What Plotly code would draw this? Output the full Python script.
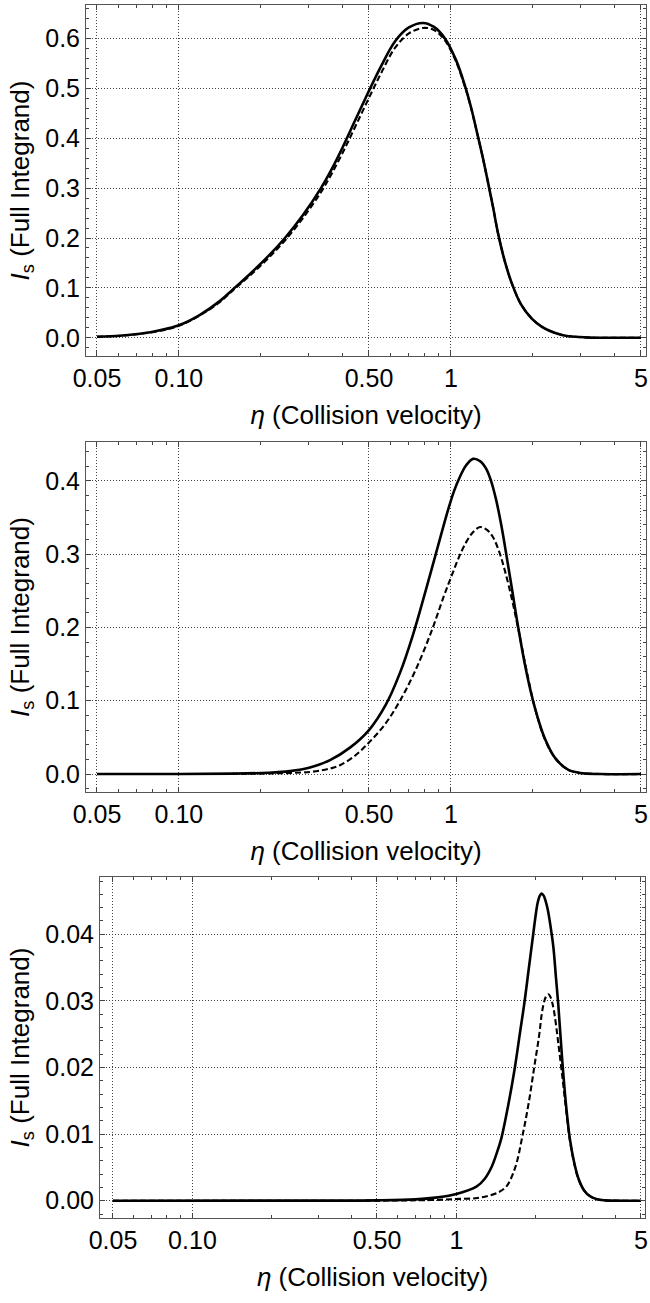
import plotly.graph_objects as go

# panel 1 (top): eta, full integrand (solid), approximation (dashed)
eta_top = [0.05, 0.0607, 0.0719, 0.0852, 0.1, 0.1196, 0.1417, 0.158, 0.1826, 0.2127, 0.2455,
           0.286, 0.333, 0.3655, 0.401, 0.444, 0.496, 0.5535, 0.623, 0.701, 0.790, 0.867,
           0.951, 1.044, 1.127, 1.186, 1.247, 1.312, 1.369, 1.429, 1.490, 1.581, 1.678,
           1.811, 1.988, 2.163, 2.354, 2.562, 2.789, 3.247, 3.845, 5.0]
full_top = [0.002, 0.004, 0.008, 0.015, 0.025, 0.046, 0.074, 0.097, 0.128, 0.163, 0.2,
            0.246, 0.3, 0.339, 0.383, 0.435, 0.491, 0.544, 0.594, 0.622, 0.631, 0.623,
            0.6, 0.557, 0.505, 0.462, 0.412, 0.36, 0.312, 0.262, 0.21, 0.152, 0.108,
            0.067, 0.038, 0.022, 0.012, 0.0058, 0.0025, 0.0004, 0.0, 0.0]
approx_top = [0.002, 0.004, 0.008, 0.014, 0.024, 0.045, 0.072, 0.095, 0.125, 0.159, 0.195,
              0.24, 0.292, 0.33, 0.372, 0.422, 0.477, 0.53, 0.581, 0.61, 0.621, 0.617,
              0.596, 0.554, 0.503, 0.461, 0.412, 0.36, 0.312, 0.262, 0.21, 0.152, 0.108,
              0.067, 0.038, 0.022, 0.012, 0.0058, 0.0025, 0.0004, 0.0, 0.0]

# panel 2 (middle)
eta_mid = [0.05, 0.1, 0.158, 0.2127, 0.256, 0.3035, 0.3595, 0.4257, 0.5, 0.5773, 0.650,
           0.7256, 0.7966, 0.874, 0.9277, 0.976, 1.027, 1.081, 1.137, 1.206, 1.280, 1.346,
           1.405, 1.465, 1.528, 1.595, 1.678, 1.765, 1.889, 2.038, 2.218, 2.415, 2.695,
           2.984, 3.535, 5.0]
full_mid = [0.0, 0.0001, 0.0006, 0.0018, 0.004, 0.009, 0.019, 0.036, 0.06, 0.095, 0.138,
            0.19, 0.242, 0.296, 0.331, 0.36, 0.386, 0.406, 0.421, 0.43, 0.427, 0.417,
            0.4, 0.375, 0.342, 0.302, 0.252, 0.202, 0.142, 0.09, 0.048, 0.022, 0.006,
            0.0015, 0.0, 0.0]
eta_mid_d = [0.05, 0.1, 0.158, 0.2127, 0.306, 0.3595, 0.391, 0.444, 0.5, 0.5727, 0.650,
             0.744, 0.849, 0.943, 1.010, 1.071, 1.137, 1.206, 1.280, 1.358, 1.429, 1.503,
             1.581, 1.678, 1.765, 1.889, 2.038, 2.218, 2.415, 2.695, 2.984, 3.535, 5.0]
approx_mid = [0.0, 0.0, 0.0002, 0.0008, 0.003, 0.0075, 0.012, 0.025, 0.043, 0.068, 0.1,
              0.143, 0.195, 0.243, 0.272, 0.296, 0.316, 0.33, 0.337, 0.333, 0.323, 0.304,
              0.277, 0.238, 0.2, 0.145, 0.09, 0.047, 0.022, 0.006, 0.0015, 0.0, 0.0]

# panel 3 (bottom)
eta_bot = [0.05, 0.3, 0.5, 0.7, 0.85, 1.0, 1.19, 1.28, 1.36, 1.42, 1.48, 1.57, 1.66, 1.74,
           1.81, 1.88, 1.95, 1.99, 2.03, 2.07, 2.10, 2.14, 2.18, 2.22, 2.27, 2.33, 2.382,
           2.43, 2.517, 2.599, 2.691, 2.8, 2.9, 3.05, 3.2, 3.41, 3.65, 5.0]
full_bot = [0.0, 0.00001, 0.00005, 0.0002, 0.0005, 0.001, 0.0021, 0.0033, 0.0051, 0.0071,
            0.0094, 0.0143, 0.0197, 0.0252, 0.0298, 0.0349, 0.0398, 0.0425, 0.0447, 0.0458,
            0.0461, 0.0458, 0.0449, 0.0436, 0.0413, 0.038, 0.0335, 0.0295, 0.021, 0.0145,
            0.0092, 0.0055, 0.0033, 0.0015, 0.0007, 0.0002, 0.00005, 0.0]
eta_bot_d = [0.05, 0.5, 0.8, 1.0, 1.2, 1.34, 1.45, 1.55, 1.67, 1.78, 1.88, 1.97, 2.06, 2.10,
             2.14, 2.18, 2.23, 2.27, 2.31, 2.35, 2.39, 2.43, 2.517, 2.599, 2.691, 2.8, 2.9,
             3.05, 3.2, 3.41, 3.65, 5.0]
approx_bot = [0.0, 0.00001, 0.0001, 0.00025, 0.0004, 0.0008, 0.0013, 0.0022, 0.005, 0.0098,
              0.0148, 0.02, 0.025, 0.0278, 0.0296, 0.0306, 0.031, 0.0306, 0.0296, 0.0281,
              0.026, 0.0237, 0.0187, 0.0138, 0.009, 0.0054, 0.0032, 0.0015, 0.0007, 0.0002,
              0.00005, 0.0]

x_ticks = [0.05, 0.1, 0.5, 1, 5]
x_ticktext = ['0.05', '0.10', '0.50', '1', '5']
x_minor = [0.06, 0.07, 0.08, 0.09, 0.2, 0.3, 0.4, 0.6, 0.7, 0.8, 0.9, 2, 3, 4]

FONT = 'Liberation Sans, Arial, sans-serif'
W, H = 650, 1303

fig = go.Figure()
panels = [
    (eta_top, full_top, eta_top, approx_top, ''),
    (eta_mid, full_mid, eta_mid_d, approx_mid, '2'),
    (eta_bot, full_bot, eta_bot_d, approx_bot, '3'),
]
for xs, ys, xd, yd, n in panels:
    fig.add_trace(go.Scatter(x=xs, y=ys, mode='lines', line=dict(color='black', width=2.6, shape='spline'),
                             xaxis='x' + n, yaxis='y' + n))
    fig.add_trace(go.Scatter(x=xd, y=yd, mode='lines',
                             line=dict(color='black', width=2.1, dash='6px,3px', shape='spline'),
                             xaxis='x' + n, yaxis='y' + n))


def xax(left, right, r0, r1, anchor):
    return dict(type='log', range=[r0, r1], domain=[left / W, right / W], anchor=anchor,
                automargin=False,
                tickmode='array', tickvals=x_ticks, ticktext=x_ticktext,
                ticks='inside', ticklen=5, tickcolor='#444', showline=True, linecolor='#555',
                mirror='allticks', showgrid=True, gridcolor='#444', griddash='1px,2px', gridwidth=1,
                zeroline=False,
                minor=dict(tickmode='array', tickvals=x_minor, ticks='inside', ticklen=3,
                           tickcolor='#444', showgrid=False),
                tickfont=dict(family=FONT, size=25, color='black'),
                title=dict(text='<i>η</i> (Collision velocity)', standoff=14,
                           font=dict(family=FONT, size=26, color='black')))


def yax(top, bottom, r0, r1, dtick, mdtick, fmt, anchor):
    return dict(range=[r0, r1], domain=[1 - bottom / H, 1 - top / H], anchor=anchor,
                automargin=False,
                tick0=0, dtick=dtick, tickformat=fmt,
                ticks='inside', ticklen=5, tickcolor='#444', showline=True, linecolor='#555',
                mirror='allticks', showgrid=True, gridcolor='#444', griddash='1px,2px', gridwidth=1,
                zeroline=False,
                minor=dict(tick0=0, dtick=mdtick, ticks='inside', ticklen=3, tickcolor='#444', showgrid=False),
                tickfont=dict(family=FONT, size=25, color='black'),
                title=dict(text='<i>I</i><sub>s</sub> (Full Integrand)', standoff=8,
                           font=dict(family=FONT, size=26, color='black')))


fig.update_layout(
    width=W, height=H, margin=dict(l=0, r=0, t=0, b=0),
    paper_bgcolor='white', plot_bgcolor='white', showlegend=False,
    xaxis=xax(86, 646, -1.3414, 0.7174, 'y'),
    xaxis2=xax(86, 646, -1.3414, 0.7174, 'y2'),
    xaxis3=xax(100, 645, -1.3502, 0.7142, 'y3'),
    yaxis=yax(5, 356, -0.0365, 0.667, 0.1, 0.02, '.1f', 'x'),
    yaxis2=yax(442, 792, -0.0245, 0.453, 0.1, 0.02, '.1f', 'x2'),
    yaxis3=yax(877, 1218, -0.0026, 0.0486, 0.01, 0.002, '.2f', 'x3'),
)

# page body has a default 8px margin; drop it so the figure sits at the window origin
fig.write_html("out.html", config={'displayModeBar': False},
               post_script="document.body.style.margin='0';")
